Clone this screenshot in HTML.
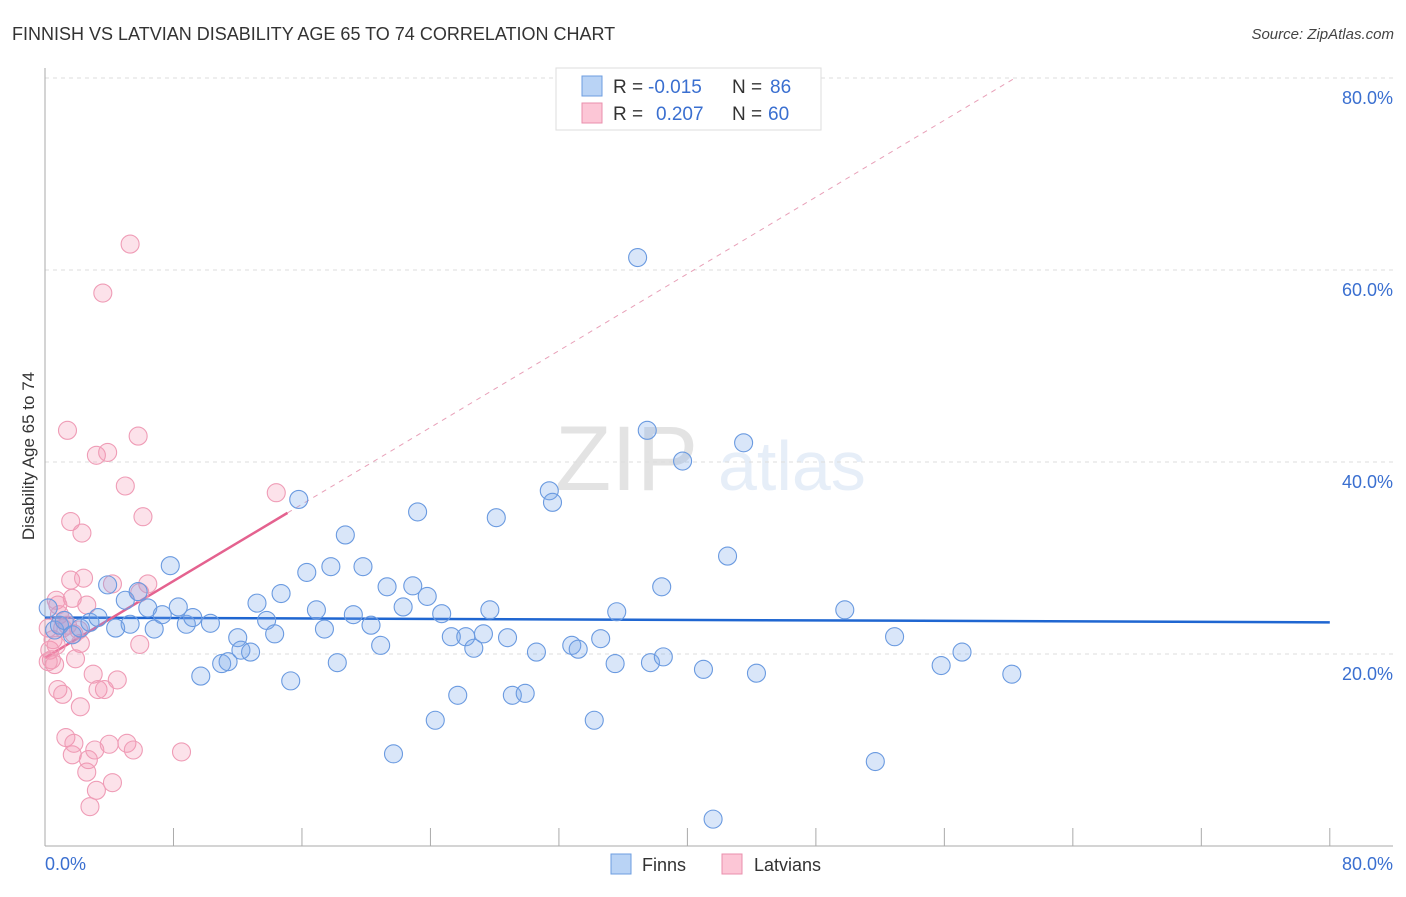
<!DOCTYPE html>
<html><head><meta charset="utf-8"><style>
body{margin:0;background:#fff;font-family:"Liberation Sans",sans-serif}
svg text{font-family:"Liberation Sans",sans-serif}
</style></head><body>
<svg id="chart" width="1406" height="892" xmlns="http://www.w3.org/2000/svg">
<text x="12" y="40" font-size="18" fill="#333">FINNISH VS LATVIAN DISABILITY AGE 65 TO 74 CORRELATION CHART</text>
<text x="1394" y="39" font-size="15" fill="#444" font-style="italic" text-anchor="end">Source: ZipAtlas.com</text>
<g opacity="0.13">
<text x="555" y="490" font-size="92" font-family="Liberation Serif" fill="#333">ZIP</text>
<text x="718" y="490" font-size="70" fill="#4a7fd0">atlas</text>
</g>
<text transform="translate(34,456) rotate(-90)" font-size="17" fill="#333" text-anchor="middle">Disability Age 65 to 74</text>
<g id="grid"></g><g id="axes"></g><g id="lines"></g><g id="pts"></g>
<g>
<rect x="556" y="68" width="265" height="62" fill="#fff" stroke="#ddd"/>
<rect x="582" y="76" width="20" height="20" fill="#b9d3f5" stroke="#6d9ee0"/>
<rect x="582" y="103" width="20" height="20" fill="#fcc6d6" stroke="#ea8fac"/>
<text x="613" y="93" font-size="19" fill="#333">R =</text><text x="648" y="93" font-size="19" fill="#3a6fd0">-0.015</text>
<text x="732" y="93" font-size="19" fill="#333">N =</text><text x="770" y="93" font-size="19" fill="#3a6fd0">86</text>
<text x="613" y="120" font-size="19" fill="#333">R =</text><text x="656" y="120" font-size="19" fill="#3a6fd0">0.207</text>
<text x="732" y="120" font-size="19" fill="#333">N =</text><text x="768" y="120" font-size="19" fill="#3a6fd0">60</text>
</g>
<g>
<rect x="611" y="854" width="20" height="20" fill="#b9d3f5" stroke="#6d9ee0"/>
<text x="642" y="871" font-size="18" fill="#333">Finns</text>
<rect x="722" y="854" width="20" height="20" fill="#fcc6d6" stroke="#ea8fac"/>
<text x="754" y="871" font-size="18" fill="#333">Latvians</text>
</g>
</svg>
<script>
const finnsX=[0.2,0.6,0.9,1.2,1.7,2.2,2.8,3.3,3.9,4.4,5.0,5.3,5.8,6.4,6.8,7.3,7.8,8.3,8.8,9.2,9.7,10.3,11.0,11.4,12.0,12.2,12.8,13.2,13.8,14.3,14.7,15.3,15.8,16.3,16.9,17.4,17.8,18.2,18.7,19.2,19.8,20.3,20.9,21.3,21.7,22.3,22.9,23.2,23.8,24.3,24.7,25.3,25.7,26.2,26.7,27.3,27.7,28.1,28.8,29.1,29.9,30.6,31.4,31.6,32.8,33.2,34.2,34.6,35.5,35.6,36.9,37.5,37.7,38.4,38.5,39.7,41.0,41.6,42.5,43.5,44.3,49.8,51.7,52.9,55.8,57.1,60.2];
const finnsY=[24.8,22.5,23.0,23.5,22.0,22.7,23.3,23.8,27.2,22.7,25.6,23.1,26.5,24.8,22.6,24.1,29.2,24.9,23.1,23.8,17.7,23.2,19.0,19.2,21.7,20.4,20.2,25.3,23.5,22.1,26.3,17.2,36.1,28.5,24.6,22.6,29.1,19.1,32.4,24.1,29.1,23.0,20.9,27.0,9.6,24.9,27.1,34.8,26.0,13.1,24.2,21.8,15.7,21.8,20.6,22.1,24.6,34.2,21.7,15.7,15.9,20.2,37.0,35.8,20.9,20.5,13.1,21.6,19.0,24.4,61.3,43.3,19.1,27.0,19.7,40.1,18.4,2.8,30.2,42.0,18.0,24.6,8.8,21.8,18.8,20.2,17.9];
const latviansX=[0.2,0.3,0.4,0.6,0.7,0.8,0.9,1.1,1.2,1.3,1.4,1.6,1.6,1.7,1.7,1.8,1.8,1.9,2.1,2.2,2.2,2.3,2.4,2.6,2.6,2.7,2.8,3.0,3.1,3.2,3.2,3.3,3.6,3.7,3.9,4.0,4.2,4.5,5.0,5.1,5.3,5.5,5.8,5.9,6.1,6.4,5.9,8.5,14.4,0.8,1.1,0.5,0.2,0.7,1.4,4.2];
const latviansY=[22.7,20.4,19.4,18.9,25.6,16.3,24.1,15.8,23.5,11.3,43.3,33.8,27.7,9.5,25.8,22.1,10.7,19.5,22.5,21.1,14.5,32.6,27.9,25.1,7.7,9.0,4.1,17.9,10.0,5.8,40.7,16.3,57.6,16.3,41.0,10.6,27.3,17.3,37.5,10.7,62.7,10.0,42.7,26.4,34.3,27.3,21.0,9.8,36.8,25.1,22.7,21.5,19.2,20.9,23.0,6.6];
const yTicks=[20,40,60,80];
const yTickLabels=["20.0%","40.0%","60.0%","80.0%"];
const xTicks=[8,16,24,32,40,48,56,64,72,80];
const finnsTrend=[23.8,23.3];
const latviansTrend=[19.6,1.0];
const latviansSolidEnd=15.1;

const NS="http://www.w3.org/2000/svg";
const X=v=>45+v*16.06, Y=v=>846-v*9.6;
function mk(parent,tag,attrs){const e=document.createElementNS(NS,tag);for(const k in attrs)e.setAttribute(k,attrs[k]);document.getElementById(parent).appendChild(e);return e;}
yTicks.forEach((t,i)=>{
 const g=mk('grid','line',{x1:45,x2:1393,y1:Y(t),y2:Y(t),stroke:'#ddd','stroke-dasharray':'4,4'});
 
 
 const l=mk('grid','text',{x:1393,y:Y(t)+26,'font-size':18,fill:'#3a6fd0','text-anchor':'end'});
 l.textContent=yTickLabels[i];
 
 
});
const ax=mk('axes','line',{x1:45,x2:45,y1:68,y2:846,stroke:'#aaa'});


const bx=mk('axes','line',{x1:45,x2:1393,y1:846,y2:846,stroke:'#aaa'});


xTicks.forEach(t=>{
 const k=mk('axes','line',{x1:X(t),x2:X(t),y1:828,y2:846,stroke:'#aaa'});
 
 
});
const x0=mk('axes','text',{x:45,y:870,'font-size':18,fill:'#3a6fd0'});x0.textContent='0.0%';


const x1=mk('axes','text',{x:1393,y:870,'font-size':18,fill:'#3a6fd0','text-anchor':'end'});x1.textContent='80.0%';



const bt=mk('lines','line',{x1:X(0),x2:X(80),y1:Y(finnsTrend[0]),y2:Y(finnsTrend[1]),stroke:'#1f66d1','stroke-width':2.5});


const pEnd=(80-latviansTrend[0])/latviansTrend[1];
const pd=mk('lines','line',{x1:X(latviansSolidEnd),x2:X(pEnd),y1:Y(latviansTrend[0]+latviansTrend[1]*latviansSolidEnd),y2:Y(80),stroke:'#e8a0b8','stroke-width':1,'stroke-dasharray':'5,5'});


const ps=mk('lines','line',{x1:X(0),x2:X(latviansSolidEnd),y1:Y(latviansTrend[0]),y2:Y(latviansTrend[0]+latviansTrend[1]*latviansSolidEnd),stroke:'#e4628f','stroke-width':2.5});



latviansX.forEach((v,i)=>{
 const c=mk('pts','circle',{cx:X(v),cy:Y(latviansY[i]),r:9,fill:'rgba(245,150,180,0.28)',stroke:'#ef9cb6','stroke-width':1.1});
 
 
});
finnsX.forEach((v,i)=>{
 const c=mk('pts','circle',{cx:X(v),cy:Y(finnsY[i]),r:9,fill:'rgba(120,165,235,0.28)',stroke:'#6a9ae0','stroke-width':1.1});
 
 
});
</script>
</body></html>
